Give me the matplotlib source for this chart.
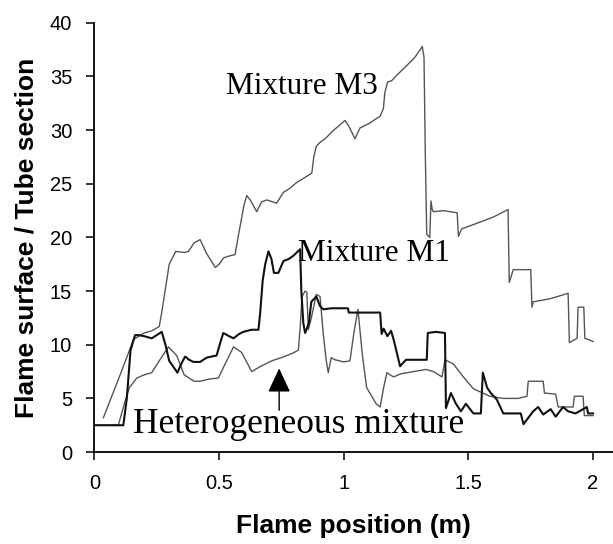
import matplotlib
matplotlib.use("Agg")
import matplotlib.pyplot as plt
from matplotlib.ticker import FuncFormatter

# Mixture M3 (grey)
m3_x = [0.036, 0.10, 0.157, 0.20, 0.23, 0.26, 0.27, 0.30, 0.326, 0.36, 0.377, 0.40, 0.424, 0.45, 0.485,
        0.50, 0.518, 0.545, 0.564, 0.58, 0.60, 0.611, 0.625, 0.651, 0.67, 0.691, 0.731, 0.758, 0.785,
        0.81, 0.852, 0.872, 0.88, 0.89, 0.902, 0.93, 0.955, 0.98, 1.005, 1.02, 1.045, 1.065, 1.10,
        1.146, 1.159, 1.165, 1.176, 1.192, 1.212, 1.252, 1.286, 1.315, 1.322, 1.327, 1.333, 1.345,
        1.350, 1.355, 1.36, 1.40, 1.455, 1.46, 1.473, 1.52, 1.60, 1.659, 1.664, 1.68, 1.75, 1.755,
        1.76, 1.83, 1.90, 1.905, 1.936, 1.94, 1.963, 1.967, 1.98, 2.0]
m3_y = [3.2, 7.0, 10.5, 11.1, 11.3, 11.7, 13.0, 17.5, 18.7, 18.6, 18.7, 19.5, 19.8, 18.5, 17.2,
        17.5, 18.1, 18.3, 18.4, 20.5, 23.0, 23.9, 23.5, 22.4, 23.3, 23.5, 23.2, 24.2, 24.6,
        25.1, 25.7, 26.0, 27.5, 28.5, 28.8, 29.3, 29.9, 30.4, 30.9, 30.4, 29.2, 30.2, 30.6,
        31.3, 32.0, 33.5, 34.5, 34.6, 35.1, 36.0, 36.8, 37.8, 36.8, 28.0, 20.3, 20.0,
        23.4, 22.6, 22.4, 22.5, 22.3, 20.1, 20.8, 21.2, 21.9, 22.6, 15.8, 17.0, 17.0, 13.5,
        14.0, 14.3, 14.8, 10.2, 10.6, 13.5, 13.5, 10.6, 10.5, 10.3]

# Heterogeneous mixture (grey)
het_x = [0.0, 0.096, 0.12, 0.14, 0.17, 0.20, 0.23, 0.26, 0.297, 0.33, 0.36, 0.40, 0.424, 0.46, 0.497,
         0.52, 0.558, 0.59, 0.631, 0.66, 0.711, 0.75, 0.794, 0.818, 0.825, 0.833, 0.845, 0.852, 0.858,
         0.87, 0.89, 0.905, 0.918, 0.93, 0.938, 0.95, 0.965, 1.0, 1.025, 1.04, 1.057, 1.075, 1.092,
         1.105, 1.13, 1.146, 1.16, 1.173, 1.186, 1.20, 1.23, 1.28, 1.33, 1.36, 1.394, 1.406, 1.44,
         1.48, 1.52, 1.586, 1.64, 1.70, 1.735, 1.74, 1.80, 1.805, 1.85, 1.86, 1.92, 1.925, 1.96,
         1.965, 2.0]
het_y = [2.5, 2.5, 4.5, 6.0, 6.9, 7.2, 7.4, 8.5, 9.8, 9.0, 7.2, 6.6, 6.6, 6.8, 6.9,
         8.0, 9.8, 9.3, 7.5, 7.9, 8.5, 8.8, 9.2, 9.5, 11.5, 14.5, 15.0, 14.9, 11.4,
         12.5, 14.7, 14.5, 11.0, 8.5, 7.4, 8.8, 8.6, 8.4, 8.5, 11.0, 13.3, 9.0, 6.0,
         5.5, 4.5, 4.2, 6.0, 7.4, 7.2, 7.0, 7.3, 7.5, 7.7, 7.5, 7.0, 8.6, 8.2,
         7.0, 5.9, 5.2, 5.0, 5.0, 5.2, 6.6, 6.6, 5.5, 5.4, 4.2, 4.2, 5.2, 5.2,
         3.4, 3.4]

# Mixture M1 (black)
m1_x = [0.0, 0.116, 0.13, 0.145, 0.163, 0.177, 0.20, 0.23, 0.27, 0.285, 0.30, 0.333, 0.35, 0.364,
        0.38, 0.397, 0.424, 0.45, 0.47, 0.49, 0.505, 0.517, 0.54, 0.558, 0.58, 0.597, 0.63, 0.658,
        0.665, 0.675, 0.685, 0.698, 0.71, 0.72, 0.738, 0.758, 0.78, 0.798, 0.825, 0.83, 0.838,
        0.845, 0.86, 0.87, 0.89, 0.905, 0.918, 0.95, 1.017, 1.02, 1.053, 1.10, 1.146, 1.152, 1.16,
        1.175, 1.19, 1.20, 1.226, 1.25, 1.30, 1.333, 1.337, 1.37, 1.406, 1.41, 1.43, 1.45, 1.47,
        1.49, 1.52, 1.55, 1.558, 1.575, 1.59, 1.614, 1.64, 1.71, 1.721, 1.76, 1.78, 1.80, 1.83,
        1.85, 1.88, 1.90, 1.93, 1.96, 1.975, 1.98, 2.0]
m1_y = [2.5, 2.5, 5.0, 9.5, 10.9, 10.9, 10.8, 10.6, 11.2, 10.0, 8.5, 7.4, 8.3, 8.9,
        8.6, 8.4, 8.4, 8.8, 8.9, 9.0, 10.2, 11.1, 10.8, 10.6, 11.0, 11.2, 11.4, 11.4,
        13.0, 16.0, 17.5, 18.7, 18.0, 16.7, 16.7, 17.8, 18.0, 18.3, 18.9, 15.0, 12.0,
        11.1, 12.0, 14.0, 14.5, 13.6, 13.3, 13.4, 13.4, 13.0, 13.0, 13.0, 13.0, 11.0, 11.5,
        10.8, 11.3, 10.5, 8.0, 8.6, 8.6, 8.6, 11.1, 11.2, 11.1, 4.1, 5.5, 4.5, 3.8,
        4.5, 3.6, 3.6, 7.4, 6.0, 5.5, 4.9, 3.6, 3.6, 2.6, 3.8, 4.2, 3.5, 4.0,
        3.3, 4.2, 3.8, 3.6, 4.0, 4.2, 3.6, 3.6]

x_ticks = [0, 0.5, 1, 1.5, 2]
y_ticks = [0, 5, 10, 15, 20, 25, 30, 35, 40]

fig = plt.figure(figsize=(6.13, 5.44), dpi=100)
ax = fig.add_axes([0.154, 0.169, 0.846, 0.789])

ax.plot(m3_x, m3_y, color="#555555", lw=1.0)
ax.plot(het_x, het_y, color="#555555", lw=1.0)
ax.plot(m1_x, m1_y, color="#111111", lw=1.5)

ax.set_xlim(0, 2.08)
ax.set_ylim(0, 40)
ax.set_xticks(x_ticks)
ax.set_yticks(y_ticks)
ax.xaxis.set_major_formatter(FuncFormatter(lambda v, p: "%g" % v))
ax.tick_params(direction="out", length=6, width=1.1, labelsize=14.5,
               labelfontfamily="Liberation Sans", pad=10)
for s in ["top", "right"]:
    ax.spines[s].set_visible(False)
for s in ["left", "bottom"]:
    ax.spines[s].set_linewidth(1.3)

ax.set_xlabel("Flame position (m)", fontsize=19, fontweight="bold",
              family="Liberation Sans", labelpad=15)
ax.set_ylabel("Flame surface / Tube section", fontsize=19, fontweight="bold",
              family="Liberation Sans", labelpad=8)

serif = "Liberation Serif"
ax.text(0.528, 33.4, "Mixture M3", fontsize=22.5, family=serif, va="baseline", ha="left")
ax.text(0.818, 17.8, "Mixture M1", fontsize=22.5, family=serif, va="baseline", ha="left")
ax.text(0.154, 1.74, "Heterogeneous mixture", fontsize=25.5, family=serif, va="baseline", ha="left")
ax.annotate("", xy=(0.741, 7.8), xytext=(0.741, 3.9),
            arrowprops=dict(arrowstyle="-|>,head_width=0.35,head_length=0.75",
                            mutation_scale=20, color="black", lw=1.0,
                            shrinkA=0, shrinkB=0))

fig.savefig("out.png", dpi=100)
